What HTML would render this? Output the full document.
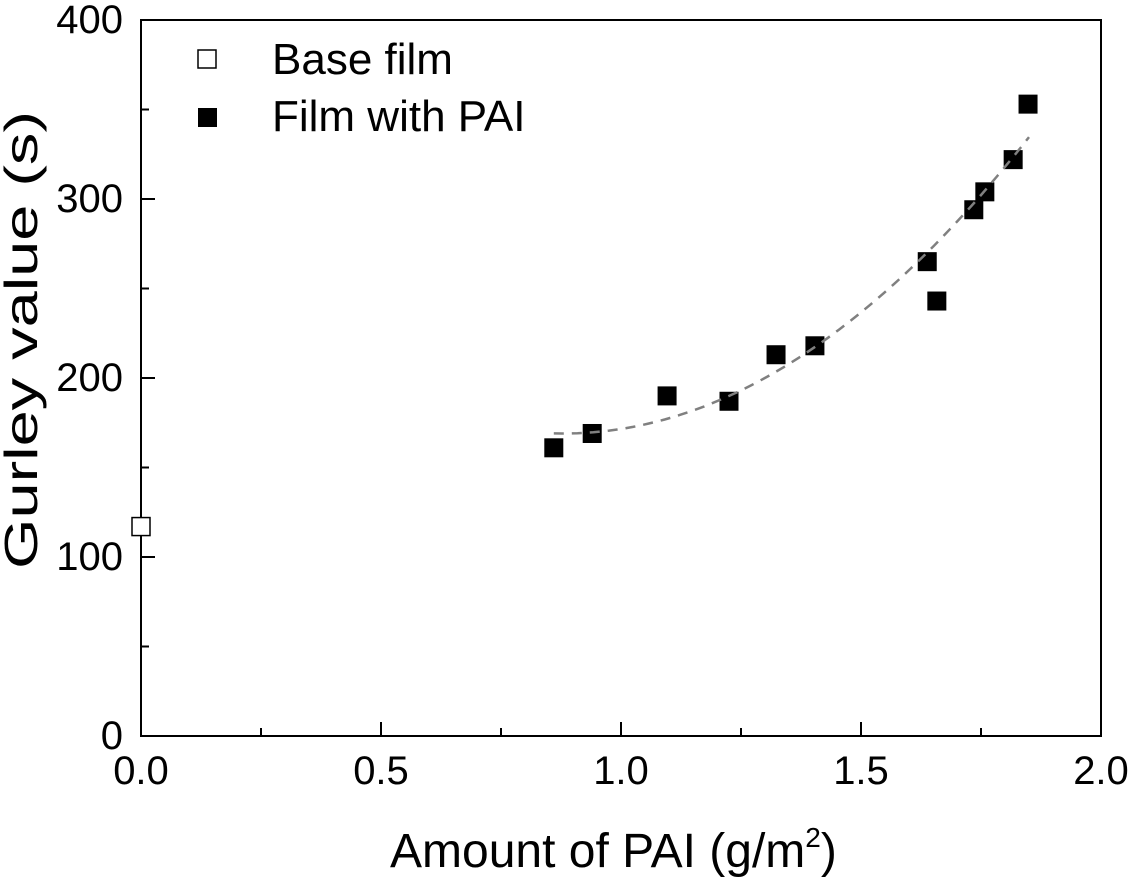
<!DOCTYPE html>
<html><head><meta charset="utf-8"><style>
body{margin:0;background:#fff}
svg{display:block;font-family:"Liberation Sans",Arial,sans-serif}
</style></head><body>
<svg id="chart" width="1131" height="877">
<g id="axes"></g>
<g id="points"></g>
<g id="fit"></g>
<g>
 <rect x="198" y="50" width="18" height="18" fill="#fff" stroke="#000" stroke-width="1.5"/>
 <text x="272" y="74" font-size="44">Base film</text>
 <rect x="198" y="108" width="19" height="19" fill="#000"/>
 <text x="272" y="131" font-size="44">Film with PAI</text>
</g>
<text transform="translate(37,340) rotate(-90)" text-anchor="middle" font-size="46" textLength="458" lengthAdjust="spacingAndGlyphs">Gurley value (s)</text>
<text x="390" y="867" font-size="48">Amount of PAI (g/m<tspan dy="-20" font-size="28">2</tspan><tspan dy="20">)</tspan></text>
</svg>
<script>
const xTicks=[0,0.5,1.0,1.5,2.0];
const xTickLabels=["0.0","0.5","1.0","1.5","2.0"];
const yTicks=[0,100,200,300,400];
const yTickLabels=["0","100","200","300","400"];
const baseX=[0];
const baseY=[117];
const paiX=[0.86,0.94,1.096,1.225,1.323,1.404,1.638,1.658,1.735,1.758,1.817,1.848];
const paiY=[161,169,190,187,213,218,265,243,294,304,322,353];
const fitRange=[0.86,1.85];
const fitParams=[169,176,0.88];
const L=141,R=1101,T=20,B=736;
const sx=v=>L+(v-0)/(2-0)*(R-L);
const sy=v=>B-(v-0)/(400-0)*(B-T);
const NS="http://www.w3.org/2000/svg";
function mk(tag,attrs,parent){const e=document.createElementNS(NS,tag);for(const k in attrs)e.setAttribute(k,attrs[k]);parent.appendChild(e);return e;}
const ax=document.getElementById('axes');
let e=mk('rect',{x:L,y:T,width:R-L,height:B-T,fill:'none',stroke:'#000','stroke-width':2},ax);


xTicks.forEach((v,i)=>{
 mk('line',{x1:sx(v),y1:B,x2:sx(v),y2:B-14,stroke:'#000','stroke-width':2},ax);
 if(i<xTicks.length-1){mk('line',{x1:sx(v+0.25),y1:B,x2:sx(v+0.25),y2:B-8,stroke:'#000','stroke-width':2},ax);}
 const t=mk('text',{x:sx(v),y:784,'text-anchor':'middle','font-size':40},ax);t.textContent=xTickLabels[i];
 
 
});
yTicks.forEach((v,i)=>{
 mk('line',{x1:L,y1:sy(v),x2:L+14,y2:sy(v),stroke:'#000','stroke-width':2},ax);
 if(i<yTicks.length-1){mk('line',{x1:L,y1:sy(v+50),x2:L+8,y2:sy(v+50),stroke:'#000','stroke-width':2},ax);}
 const t=mk('text',{x:L-18,y:sy(v)+13,'text-anchor':'end','font-size':40},ax);t.textContent=yTickLabels[i];
 
 
});
const pg=document.getElementById('points');
baseX.forEach((x,i)=>{
 const r=mk('rect',{x:sx(x)-9,y:sy(baseY[i])-9,width:18,height:18,fill:'#fff',stroke:'#000','stroke-width':1.5},pg);
 
 
});
paiX.forEach((x,i)=>{
 const r=mk('rect',{x:sx(x)-9.5,y:sy(paiY[i])-9.5,width:19,height:19,fill:'#000'},pg);
 
 
});
const fg=document.getElementById('fit');
let d='';
for(let k=0;k<=60;k++){const x=fitRange[0]+(fitRange[1]-fitRange[0])*k/60;const y=fitParams[0]+fitParams[1]*(x-fitParams[2])**2;d+=(k?'L':'M')+sx(x).toFixed(1)+','+sy(y).toFixed(1);}
e=mk('path',{d:d,fill:'none',stroke:'#808080','stroke-width':2.5,'stroke-dasharray':'10,8'},fg);


</script>
</body></html>
